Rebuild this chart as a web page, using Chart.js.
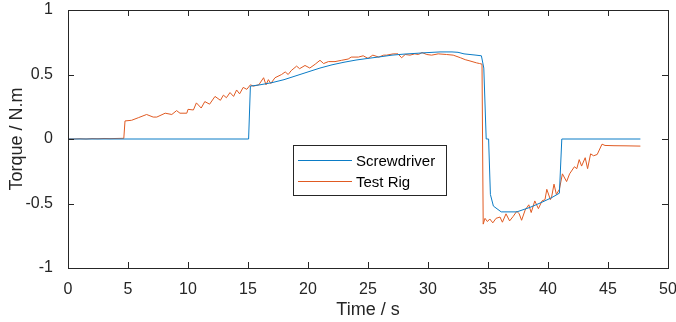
<!DOCTYPE html>
<html>
<head>
<meta charset="utf-8">
<script src="https://cdn.jsdelivr.net/npm/chart.js@4.4.0/dist/chart.umd.min.js"></script>
<style>
  html, body { margin: 0; padding: 0; background: #fff; }
  #wrap { width: 676px; height: 322px; }
</style>
</head>
<body>
<div id="wrap"><canvas id="torqueChart" width="676" height="322"></canvas></div>
<script>
// axis ticks
const xTicks = [0, 5, 10, 15, 20, 25, 30, 35, 40, 45, 50];
const yTicks = [-1, -0.5, 0, 0.5, 1];

// Screwdriver trace (time in s, torque in N.m)
const driverTime = [0, 15.05, 15.2, 16, 17, 18, 19, 20, 21, 22, 23, 24, 25, 26, 27, 28, 29, 30, 31, 32,
  32.5, 33, 34, 34.45, 34.65, 34.85, 35.05, 35.2, 35.45, 36.1, 37.4, 38.5, 39.5, 40.3, 40.95, 41.15, 47.7];
const driverTorque = [0, 0, 0.41, 0.42, 0.437, 0.46, 0.49, 0.52, 0.55, 0.575, 0.595, 0.612, 0.625, 0.637, 0.65, 0.658, 0.664, 0.67, 0.675, 0.675,
  0.672, 0.66, 0.65, 0.645, 0.55, 0, 0, -0.43, -0.52, -0.565, -0.565, -0.53, -0.49, -0.455, -0.42, 0, 0];

// Test rig trace
const rigTime = [0, 0.5, 1, 1.5, 2, 2.5, 3, 3.5, 4, 4.5,
  4.65, 4.75, 5.3, 5.86, 6.55, 7.1, 7.4, 8.1, 8.65, 9.05,
  9.33, 9.9, 10.0, 10.45, 10.7, 11.1, 11.4, 11.8, 12.25, 12.7,
  12.95, 13.2, 13.5, 13.8, 14.05, 14.3, 14.6, 14.9, 15.2, 15.45,
  15.9, 16.3, 16.5, 16.7, 16.9, 17.25, 17.8, 18.1, 18.35, 18.6,
  19.05, 19.3, 19.75, 20.15, 20.6, 21.0, 21.3, 21.7, 22.25, 22.8,
  23.35, 23.6, 24.2, 24.6, 25.0, 25.4, 25.9, 26.3, 26.55, 27.1,
  27.5, 27.8, 28.1, 28.5, 28.9, 29.2, 29.5, 29.9, 30.3, 30.85,
  31.55, 32.1, 32.7, 33.1, 33.5, 34.05, 34.3, 34.5, 34.6, 34.75,
  34.95, 35.15, 35.4, 35.67, 36.0, 36.2, 36.5, 36.8, 37.1, 37.4,
  37.6, 37.8, 38.1, 38.4, 38.6, 38.9, 39.2, 39.5, 39.75, 39.9,
  40.2, 40.3, 40.5, 40.7, 40.95, 41.2, 41.55, 41.8, 42.2, 42.4,
  42.6, 42.8, 43.1, 43.3, 43.55, 43.8, 44.1, 44.5, 44.75, 45.5,
  46.5, 47.7];
const rigTorque = [0, 0, 0.002, 0, 0.003, 0.002, 0.004, 0.003, 0.004, 0.005,
  0.005, 0.14, 0.145, 0.165, 0.19, 0.17, 0.17, 0.2, 0.19, 0.22,
  0.2, 0.2, 0.23, 0.225, 0.28, 0.24, 0.29, 0.27, 0.33, 0.30,
  0.34, 0.32, 0.36, 0.33, 0.38, 0.35, 0.40, 0.385, 0.42, 0.41,
  0.42, 0.475, 0.42, 0.46, 0.43, 0.475, 0.50, 0.52, 0.50, 0.53,
  0.565, 0.545, 0.57, 0.55, 0.58, 0.61, 0.585, 0.60, 0.60, 0.61,
  0.62, 0.635, 0.635, 0.645, 0.625, 0.65, 0.635, 0.65, 0.65, 0.66,
  0.66, 0.63, 0.655, 0.65, 0.66, 0.655, 0.67, 0.655, 0.65, 0.66,
  0.655, 0.65, 0.63, 0.615, 0.605, 0.59, 0.585, 0.58, -0.66, -0.615,
  -0.64, -0.62, -0.65, -0.615, -0.605, -0.645, -0.58, -0.635, -0.60, -0.56,
  -0.58, -0.63, -0.55, -0.51, -0.57, -0.48, -0.54, -0.48, -0.47, -0.39,
  -0.47, -0.45, -0.35, -0.43, -0.39, -0.27, -0.33, -0.27, -0.215, -0.23,
  -0.16, -0.21, -0.145, -0.23, -0.115, -0.13, -0.12, -0.04, -0.05, -0.052,
  -0.053, -0.055];

const seriesNames = ["Screwdriver", "Test Rig"];
const seriesColors = ["#0b7cc6", "#e05a22"];

const toPoints = (xs, ys) => xs.map((x, i) => ({ x, y: ys[i] }));

const FONT = "'Liberation Sans', Arial, Helvetica, sans-serif";
const AXIS_COLOR = "#262626";

// matlab style box, inward ticks and legend box
const matlabAxes = {
  id: "matlabAxes",
  afterDatasetsDraw(chart) {
    const { ctx, chartArea: a, scales } = chart;
    const len = 6;
    ctx.save();
    ctx.strokeStyle = AXIS_COLOR;
    ctx.lineWidth = 1;
    ctx.beginPath();
    xTicks.forEach(v => {
      const px = Math.round(scales.x.getPixelForValue(v)) + 0.5;
      ctx.moveTo(px, a.bottom); ctx.lineTo(px, a.bottom - len);
      ctx.moveTo(px, a.top); ctx.lineTo(px, a.top + len);
    });
    yTicks.forEach(v => {
      const py = Math.round(scales.y.getPixelForValue(v)) + 0.5;
      ctx.moveTo(a.left, py); ctx.lineTo(a.left + len, py);
      ctx.moveTo(a.right, py); ctx.lineTo(a.right - len, py);
    });
    ctx.stroke();
    ctx.strokeRect(Math.round(a.left) + 0.5, Math.round(a.top) + 0.5,
      Math.round(a.right - a.left), Math.round(a.bottom - a.top));

    // legend
    const lx = 293, ly = 145, lw = 153, lh = 50;
    ctx.fillStyle = "#fff";
    ctx.fillRect(lx, ly, lw, lh);
    ctx.strokeStyle = AXIS_COLOR;
    ctx.strokeRect(lx + 0.5, ly + 0.5, lw, lh);
    ctx.font = "15px " + FONT;
    ctx.textBaseline = "middle";
    seriesNames.forEach((name, i) => {
      const yy = ly + 15.5 + i * 21;
      ctx.strokeStyle = seriesColors[i];
      ctx.beginPath();
      ctx.moveTo(lx + 5, yy); ctx.lineTo(lx + 59, yy);
      ctx.stroke();
      ctx.fillStyle = "#000";
      ctx.fillText(name, lx + 63, yy + 1);
    });
    ctx.restore();
  }
};

new Chart(document.getElementById("torqueChart"), {
  type: "line",
  data: {
    datasets: [
      {
        label: seriesNames[0],
        data: toPoints(driverTime, driverTorque),
        borderColor: seriesColors[0],
        borderWidth: 1,
        pointRadius: 0,
        tension: 0,
      },
      {
        label: seriesNames[1],
        data: toPoints(rigTime, rigTorque),
        borderColor: seriesColors[1],
        borderWidth: 1,
        pointRadius: 0,
        tension: 0,
      },
    ],
  },
  options: {
    responsive: false,
    animation: false,
    layout: { padding: { top: 10, right: 8, bottom: 0, left: 0 } },
    plugins: {
      legend: { display: false },
      tooltip: { enabled: false },
    },
    scales: {
      x: {
        type: "linear",
        min: 0,
        max: 50,
        afterBuildTicks: s => { s.ticks = xTicks.map(v => ({ value: v })); },
        afterFit: s => { s.height = 54; s.paddingLeft = 0; s.paddingRight = 0; },
        grid: { display: false },
        border: { display: false },
        ticks: { color: AXIS_COLOR, font: { family: FONT, size: 16 }, padding: 4, maxRotation: 0, callback: v => String(v) },
        title: { display: true, text: "Time / s", color: AXIS_COLOR, font: { family: FONT, size: 18 }, padding: { top: 0, bottom: 1 } },
      },
      y: {
        type: "linear",
        min: -1,
        max: 1,
        afterBuildTicks: s => { s.ticks = yTicks.map(v => ({ value: v })); },
        afterFit: s => { s.width = 68; s.paddingTop = 0; s.paddingBottom = 0; },
        grid: { display: false },
        border: { display: false },
        ticks: { color: AXIS_COLOR, font: { family: FONT, size: 16 }, padding: 7, callback: v => String(v) },
        title: { display: true, text: "Torque / N.m", color: AXIS_COLOR, font: { family: FONT, size: 18 }, padding: { top: 6, bottom: 0 } },
      },
    },
  },
  plugins: [matlabAxes],
});
</script>
</body>
</html>
